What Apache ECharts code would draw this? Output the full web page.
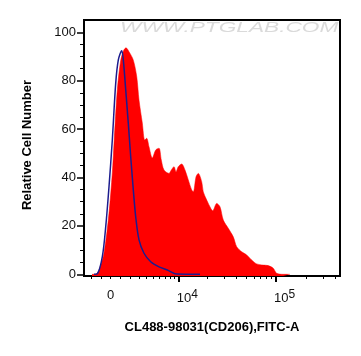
<!DOCTYPE html>
<html>
<head>
<meta charset="utf-8">
<script src="https://cdn.jsdelivr.net/npm/echarts@6/dist/echarts.min.js"></script>
<style>
html,body{margin:0;padding:0;background:#fff;}
#chart{width:361px;height:356px;}
</style>
</head>
<body>
<div id="chart"></div>
<script>
// Display scale (biexponential-like): t = asinh(intensity / C)
const C = 4280;
function T(v) { return Math.asinh(v / C); }

// Stained sample (red filled histogram): x in display-scale units, y = relative cell number
const redX = [-0.435, -0.342, -0.272, -0.156, -0.040, 0.037, 0.077, 0.153, 0.233, 0.300, 0.356, 0.426, 0.526, 0.605, 0.658, 0.735, 0.791, 0.837, 0.891, 0.967, 1.047, 1.123, 1.177, 1.240, 1.356, 1.409, 1.472, 1.519, 1.572, 1.651, 1.728, 1.805, 1.884, 1.921, 1.984, 2.037, 2.116, 2.153, 2.233, 2.326, 2.372, 2.465, 2.542, 2.619, 2.735, 2.851, 2.930, 3.047, 3.163, 3.279, 3.395, 3.549, 3.665, 3.781, 3.860, 4.014, 4.170];
const redY = [0, 0.1, 1.8, 8.8, 25.3, 41.9, 54.3, 76.2, 88.5, 92.5, 93.6, 92.0, 88.5, 81.7, 72.0, 62.5, 55.5, 56.2, 52.7, 48.1, 51.4, 52.1, 47.2, 43.1, 41.7, 43.1, 44.5, 42.4, 44.5, 45.6, 43.1, 39.0, 34.8, 34.1, 40.3, 41.7, 38.3, 34.1, 30.7, 27.3, 26.3, 29.3, 27.9, 22.4, 19.0, 15.5, 11.4, 9.3, 8.0, 5.9, 4.3, 3.8, 3.6, 2.5, 0.4, 0, 0];

// Isotype control (blue line)
const blueX = [-0.388, -0.312, -0.195, -0.116, -0.040, 0.037, 0.116, 0.177, 0.256, 0.293, 0.349, 0.409, 0.465, 0.526, 0.581, 0.658, 0.774, 0.930, 1.123, 1.316, 1.535, 2.077];
const blueY = [0, 0.2, 7.3, 19.7, 36.2, 55.5, 78.9, 88.6, 92.4, 88.6, 76.2, 62.4, 48.6, 34.8, 23.8, 14.2, 8.7, 5.2, 3.1, 1.8, 0.1, 0];

// Axis ticks and labels
const xLabelValues = [0, 10000, 100000];
const xMajorTickValues = [10000, 100000];
const xMinorTickValues = [-2000, -1000, 0, 1000, 2000, 3000, 4000, 5000, 6000, 7000, 8000, 9000,
  20000, 30000, 40000, 50000, 60000, 70000, 80000, 90000, 200000, 300000, 400000];
const yLabelValues = [0, 20, 40, 60, 80, 100];
const yMinorTickValues = [5, 10, 15, 25, 30, 35, 45, 50, 55, 65, 70, 75, 85, 90, 95];

const xTitle = 'CL488-98031(CD206),FITC-A';
const yTitle = 'Relative Cell Number';
const watermark = 'WWW.PTGLAB.COM';

const xMin = T(-2834), xMax = T(443000);
const yMin = -0.7, yMax = 105.1;
const FONT = '"Liberation Sans", Arial, sans-serif';

function xFmt(t) {
  if (Math.abs(t) < 1e-6) return '0';
  const raw = C * Math.sinh(t);
  const e = Math.round(Math.log10(raw));
  return '{b|10}{s|' + e + '}';
}

const chart = echarts.init(document.getElementById('chart'), null, {renderer: 'canvas'});
const option = {
  animation: false,
  backgroundColor: '#fff',
  grid: {left: 84, top: 20, width: 256, height: 256, show: true, borderColor: '#000', borderWidth: 2, containLabel: false},
  graphic: [{
    type: 'text', left: 120, top: 21, z: 0, silent: true,
    scaleX: 1.62,
    style: {text: watermark, font: 'italic 14px ' + FONT, fill: '#dadada'}
  }],
  xAxis: [{
    type: 'value', min: xMin, max: xMax, position: 'bottom',
    axisLine: {show: false, onZero: false},
    splitLine: {show: false},
    axisTick: {show: true, length: 6, lineStyle: {color: '#000', width: 2}, customValues: xMajorTickValues.map(T)},
    axisLabel: {
      customValues: xLabelValues.map(T), margin: 13, color: '#111', fontFamily: FONT, fontSize: 13,
      showMinLabel: true, showMaxLabel: true,
      formatter: xFmt,
      rich: {
        b: {fontFamily: FONT, fontSize: 13, color: '#111', padding: [0, 0, 0, 17]},
        s: {fontFamily: FONT, fontSize: 12, color: '#111', padding: [0, 0, 7, 0]}
      }
    },
    name: xTitle, nameLocation: 'middle', nameGap: 45,
    nameTextStyle: {fontFamily: FONT, fontWeight: 'bold', fontSize: 13, color: '#000'}
  }, {
    type: 'value', min: xMin, max: xMax, position: 'bottom',
    axisLine: {show: false, onZero: false}, splitLine: {show: false}, axisLabel: {show: false},
    axisTick: {show: true, length: 3, lineStyle: {color: '#000', width: 1}, customValues: xMinorTickValues.map(T)}
  }],
  yAxis: [{
    type: 'value', min: yMin, max: yMax, position: 'left',
    axisLine: {show: false, onZero: false}, splitLine: {show: false},
    axisTick: {show: true, length: 7, lineStyle: {color: '#000', width: 1.5}, customValues: yLabelValues},
    axisLabel: {customValues: yLabelValues, margin: 8, color: '#111', fontFamily: FONT, fontSize: 13},
    name: yTitle, nameLocation: 'middle', nameGap: 50, nameRotate: 90,
    nameTextStyle: {fontFamily: FONT, fontWeight: 'bold', fontSize: 13, color: '#000', padding: [0, 0, 0, 6]}
  }, {
    type: 'value', min: yMin, max: yMax, position: 'left', offset: 0,
    axisLine: {show: false, onZero: false}, splitLine: {show: false}, axisLabel: {show: false},
    axisTick: {show: true, length: 4, lineStyle: {color: '#000', width: 1}, customValues: yMinorTickValues}
  }],
  series: [{
    name: 'CD206', type: 'line', xAxisIndex: 0, yAxisIndex: 0,
    data: redX.map((x, i) => [x, redY[i]]),
    symbol: 'none', smooth: 0.3,
    lineStyle: {color: '#ff0000', width: 0.5},
    areaStyle: {color: '#ff0000', opacity: 1, origin: 'start'},
    z: 2
  }, {
    name: 'Isotype', type: 'line', xAxisIndex: 0, yAxisIndex: 0,
    data: blueX.map((x, i) => [x, blueY[i]]),
    symbol: 'none', smooth: 0.3,
    lineStyle: {color: '#1c1c8e', width: 1.5},
    z: 3
  }]
};
chart.setOption(option);
</script>
</body>
</html>
